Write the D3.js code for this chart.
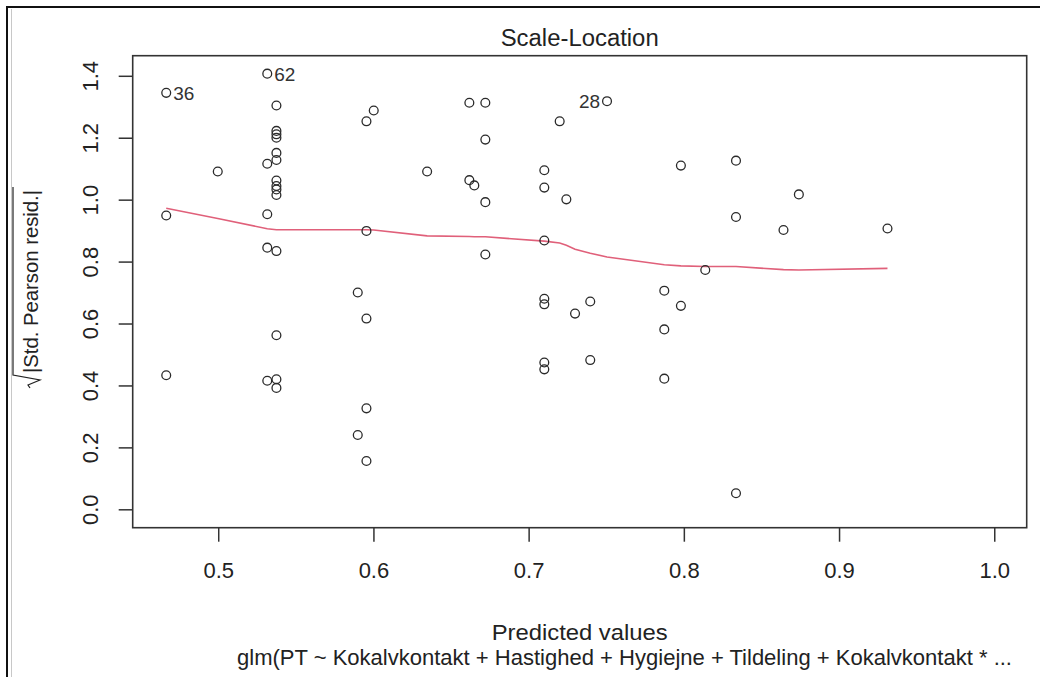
<!DOCTYPE html>
<html>
<head>
<meta charset="utf-8">
<script src="https://cdn.jsdelivr.net/npm/d3@7"></script>
<style>
  html, body { margin: 0; padding: 0; background: #fff; }
  svg { display: block; font-family: "Liberation Sans", Arial, Helvetica, sans-serif; }
</style>
</head>
<body>
<svg id="chart" width="1040" height="677"></svg>
<script>
// Fitted values of the glm (x) and sqrt(|standardised Pearson residual|) (y)
const fittedValues = [
  0.4665, 0.4665, 0.4665,
  0.4997,
  0.5316, 0.5316, 0.5316, 0.5316, 0.5316,
  0.5375, 0.5375, 0.5375, 0.5375, 0.5375, 0.5375, 0.5375, 0.5375, 0.5375, 0.5375, 0.5375, 0.5375, 0.5375, 0.5375,
  0.5899, 0.5899,
  0.5955, 0.5955, 0.5955, 0.5955, 0.5955,
  0.6002,
  0.6346,
  0.6618, 0.6618,
  0.6650,
  0.6721, 0.6721, 0.6721, 0.6721,
  0.7101, 0.7101, 0.7101, 0.7101, 0.7101, 0.7101, 0.7101,
  0.7200,
  0.7243,
  0.7299,
  0.7397, 0.7397,
  0.7505,
  0.7874, 0.7874, 0.7874,
  0.7981, 0.7981,
  0.8138,
  0.8336, 0.8336, 0.8336,
  0.8642,
  0.8741,
  0.9312
];
const sqrtAbsResid = [
  1.345, 0.949, 0.433,
  1.091,
  1.407, 1.116, 0.953, 0.845, 0.415,
  1.304, 1.222, 1.211, 1.200, 1.151, 1.128, 1.062, 1.044, 1.033, 1.015, 0.834, 0.562, 0.420, 0.392,
  0.700, 0.240,
  1.253, 0.899, 0.616, 0.326, 0.156,
  1.288,
  1.091,
  1.313, 1.063,
  1.046,
  1.313, 1.194, 0.992, 0.823,
  1.095, 1.039, 0.868, 0.680, 0.662, 0.474, 0.452,
  1.253,
  1.001,
  0.632,
  0.671, 0.482,
  1.318,
  0.706, 0.581, 0.422,
  1.110, 0.657,
  0.773,
  1.126, 0.944, 0.052,
  0.902,
  1.017,
  0.907
];

// Observations flagged with their row names
const flaggedIndex = [0, 4, 51];
const flaggedName = ["36", "62", "28"];
const flaggedSide = ["right", "right", "left"];

// Lowess smoother evaluated at the distinct fitted values
const smoothX = [0.4665, 0.4997, 0.5316, 0.5375, 0.5899, 0.5955, 0.6002, 0.6346, 0.6618, 0.6650, 0.6721,
                 0.7101, 0.7200, 0.7243, 0.7299, 0.7397, 0.7505, 0.7874, 0.7981, 0.8138, 0.8336, 0.8642, 0.8741, 0.9312];
const smoothY = [0.972, 0.939, 0.906, 0.903, 0.903, 0.903, 0.902, 0.883, 0.881, 0.880, 0.880,
                 0.866, 0.860, 0.853, 0.840, 0.827, 0.815, 0.790, 0.786, 0.784, 0.784, 0.774, 0.773, 0.778];

const xTicks = [0.5, 0.6, 0.7, 0.8, 0.9, 1.0];
const yTicks = [0.0, 0.2, 0.4, 0.6, 0.8, 1.0, 1.2, 1.4];

const titleText = "Scale-Location";
const xLabelText = "Predicted values";
const captionText = "glm(PT ~ Kokalvkontakt + Hastighed + Hygiejne + Tildeling + Kokalvkontakt * ...";
const yLabelText = "|Std. Pearson resid.|";

const svg = d3.select("#chart");

// plot region
const box = { left: 132.7, right: 1026.7, top: 55.7, bottom: 527.7 };
const x = d3.scaleLinear().domain([0.4449, 1.0209]).range([box.left, box.right]);
const y = d3.scaleLinear().domain([-0.0594, 1.4649]).range([box.bottom, box.top]);

const ink = "#333";

// outer frame
svg.append("line").attr("x1", 7).attr("y1", 7).attr("x2", 1040).attr("y2", 7)
  .attr("stroke", "#111").attr("stroke-width", 2);
svg.append("line").attr("x1", 7).attr("y1", 6).attr("x2", 7).attr("y2", 677)
  .attr("stroke", "#111").attr("stroke-width", 2);
svg.append("line").attr("x1", 11.5).attr("y1", 9).attr("x2", 11.5).attr("y2", 677)
  .attr("stroke", "#c8c8c8").attr("stroke-width", 1);

// axes
const xAxis = d3.axisBottom(x).tickValues(xTicks).tickSize(14).tickFormat(d3.format(".1f"));
const gx = svg.append("g").attr("transform", `translate(0,${box.bottom})`).call(xAxis);
gx.select(".domain").remove();
gx.selectAll(".tick line").attr("stroke", ink).attr("stroke-width", 1.5);
gx.selectAll(".tick text")
  .attr("fill", "#222").attr("font-size", 22).attr("y", 50).attr("dy", 0)
  .attr("font-family", "Liberation Sans, Arial, sans-serif");

const yAxis = d3.axisLeft(y).tickValues(yTicks).tickSize(14).tickFormat(d3.format(".1f"));
const gy = svg.append("g").attr("transform", `translate(${box.left},0)`).call(yAxis);
gy.select(".domain").remove();
gy.selectAll(".tick line").attr("stroke", ink).attr("stroke-width", 1.5);
gy.selectAll(".tick text")
  .attr("fill", "#222").attr("font-size", 22)
  .attr("x", 0).attr("dy", 0)
  .attr("text-anchor", "middle")
  .attr("transform", "translate(-35,0) rotate(-90)")
  .attr("font-family", "Liberation Sans, Arial, sans-serif");

// plot box
svg.append("rect")
  .attr("x", box.left).attr("y", box.top)
  .attr("width", box.right - box.left).attr("height", box.bottom - box.top)
  .attr("fill", "none").attr("stroke", ink).attr("stroke-width", 1.6);

// smoother
svg.append("path")
  .datum(smoothX.map((d, i) => [d, smoothY[i]]))
  .attr("fill", "none").attr("stroke", "#e0607a").attr("stroke-width", 1.6)
  .attr("d", d3.line().x(d => x(d[0])).y(d => y(d[1])));

// points
svg.append("g").selectAll("circle")
  .data(fittedValues.map((d, i) => [d, sqrtAbsResid[i]]))
  .join("circle")
  .attr("cx", d => x(d[0])).attr("cy", d => y(d[1])).attr("r", 4.4)
  .attr("fill", "none").attr("stroke", "#2a2a2a").attr("stroke-width", 1.3);

// labels of flagged observations
svg.append("g").selectAll("text")
  .data(flaggedIndex.map((k, i) => ({ k, name: flaggedName[i], side: flaggedSide[i] })))
  .join("text")
  .attr("x", d => x(fittedValues[d.k]) + (d.side === "right" ? 7 : -7))
  .attr("y", d => y(sqrtAbsResid[d.k]) + 7)
  .attr("text-anchor", d => d.side === "right" ? "start" : "end")
  .attr("font-size", 19).attr("fill", "#333")
  .text(d => d.name);

// title
const cx = (box.left + box.right) / 2;
svg.append("text").attr("x", cx).attr("y", 46).attr("text-anchor", "middle")
  .attr("font-size", 23).attr("fill", "#222")
  .attr("textLength", 158).attr("lengthAdjust", "spacingAndGlyphs")
  .text(titleText);

// x label and model caption
svg.append("text").attr("x", cx).attr("y", 640).attr("text-anchor", "middle")
  .attr("font-size", 22).attr("fill", "#222")
  .attr("textLength", 176).attr("lengthAdjust", "spacingAndGlyphs")
  .text(xLabelText);
svg.append("text").attr("x", 237).attr("y", 665).attr("text-anchor", "start")
  .attr("font-size", 22).attr("fill", "#222")
  .attr("textLength", 775).attr("lengthAdjust", "spacingAndGlyphs")
  .text(captionText);

// y label: sqrt(|Std. Pearson resid.|) with a drawn radical
const gyl = svg.append("g").attr("transform", "translate(38,373) rotate(-90)");
gyl.append("text").attr("x", 0).attr("y", 0)
  .attr("font-size", 21).attr("fill", "#222")
  .attr("textLength", 183).attr("lengthAdjust", "spacingAndGlyphs")
  .text(yLabelText);
gyl.append("path")
  .attr("d", "M-15,-8 L-12,-10 L-7,2 L-2,-25 L186,-25")
  .attr("fill", "none").attr("stroke", "#222").attr("stroke-width", 1.2);
</script>
</body>
</html>
